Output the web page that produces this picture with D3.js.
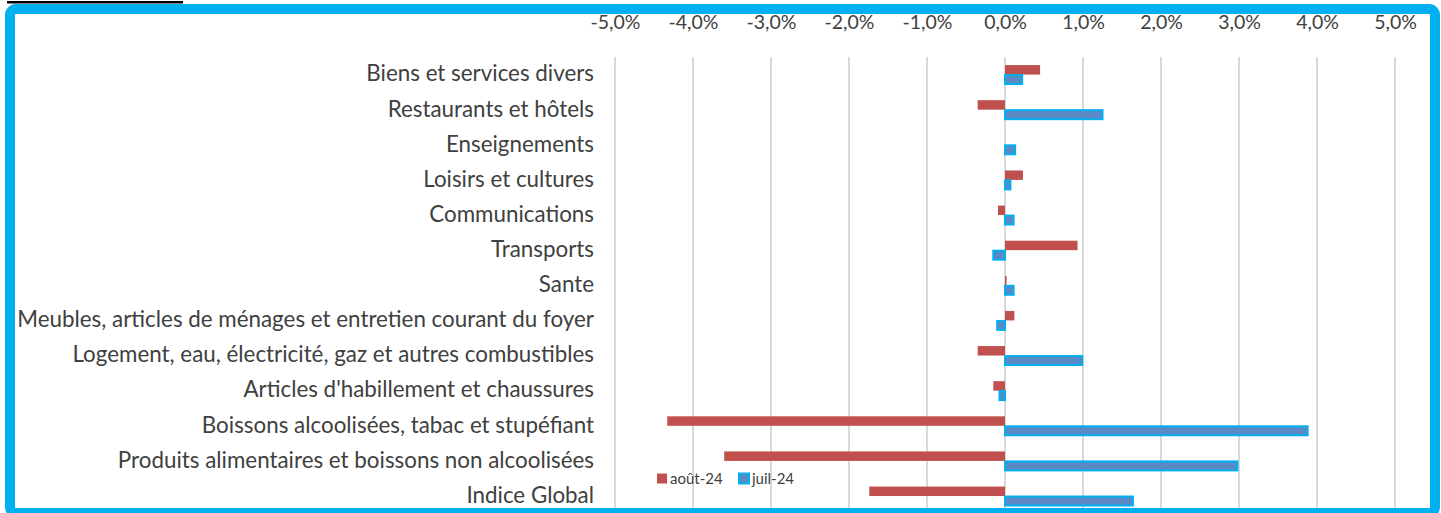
<!DOCTYPE html>
<html>
<head>
<meta charset="utf-8">
<script src="https://cdn.jsdelivr.net/npm/d3@7"></script>
<style>
  body { margin: 0; background: #fff; }
  svg { display: block; font-family: Lato, 'Open Sans', sans-serif; }
</style>
</head>
<body>
<script>
// categories top to bottom, values in %
let categories = [
    'Biens et services divers',
    'Restaurants et hôtels',
    'Enseignements',
    'Loisirs et cultures',
    'Communications',
    'Transports',
    'Sante',
    'Meubles, articles de ménages et entretien courant du foyer',
    'Logement, eau, électricité, gaz et autres combustibles',
    "Articles d'habillement et chaussures",
    'Boissons alcoolisées, tabac et stupéfiant',
    'Produits alimentaires et boissons non alcoolisées',
    'Indice Global'
];
let series = ['août-24', 'juil-24'];
let aout24 = [0.45, -0.35, 0.00, 0.23, -0.09, 0.93, 0.02, 0.12, -0.35, -0.15, -4.33, -3.60, -1.74];
let juil24 = [0.22, 1.25, 0.13, 0.07, 0.11, -0.15, 0.11, -0.10, 0.99, -0.07, 3.88, 2.98, 1.64];
let tickValues = [-5, -4, -3, -2, -1, 0, 1, 2, 3, 4, 5];

let width = 1441, height = 513;

let svg = d3.select('body').append('svg')
    .attr('width', width)
    .attr('height', height);

let fr = d3.formatLocale({decimal: ',', thousands: ' ', grouping: [3], currency: ['', '€'], minus: '-'});
let fmt = fr.format('.1f');

let x = d3.scaleLinear().domain([-5, 5]).range([615, 1395]);
let y = d3.scaleBand().domain(categories).range([57, 513.6])
    .paddingInner(0.46).paddingOuter(0.23);
let ySub = d3.scaleBand().domain(series).range([0, y.bandwidth()]);

// gridlines
svg.append('g').selectAll('line').data(tickValues).enter().append('line')
    .attr('x1', d => x(d)).attr('x2', d => x(d))
    .attr('y1', 57).attr('y2', height)
    .style('stroke', '#d9d9d9')
    .style('stroke-width', 2);

// top axis labels
let axis = d3.axisTop(x).tickValues(tickValues).tickSize(0).tickFormat(d => fmt(d) + '%');
let ax = svg.append('g').attr('transform', 'translate(0,32)').call(axis);
ax.select('.domain').remove();
ax.selectAll('text')
    .style('font-family', 'Lato, sans-serif')
    .style('font-size', '19.5px')
    .style('fill', '#404040');

// category labels
let labels = svg.append('g').selectAll('text').data(categories).enter().append('text')
    .attr('x', 594)
    .attr('y', d => y(d) + y.bandwidth() / 2 - 1)
    .attr('dy', '0.35em')
    .attr('text-anchor', 'end')
    .style('font-size', '20px')
    .style('fill', '#404040')
    .text(d => d);

// the longest label should run from x=17 to the right edge
let longest = d3.max(labels.nodes(), n => n.getComputedTextLength());
labels.style('font-size', (20 * 577 / longest) + 'px');

let rows = categories.map((c, i) => ({cat: c, aout: aout24[i], juil: juil24[i]}));

// août-24 bars
svg.append('g').selectAll('rect').data(rows).enter().append('rect')
    .attr('x', d => x(Math.min(0, d.aout)))
    .attr('y', d => y(d.cat) + ySub('août-24'))
    .attr('width', d => Math.abs(x(d.aout) - x(0)))
    .attr('height', ySub.bandwidth())
    .style('fill', '#c0504d');

// juil-24 bars
svg.append('g').selectAll('rect').data(rows).enter().append('rect')
    .attr('x', d => x(Math.min(0, d.juil)))
    .attr('y', d => y(d.cat) + ySub('juil-24') + 0.5)
    .attr('width', d => Math.abs(x(d.juil) - x(0)))
    .attr('height', ySub.bandwidth() - 0.5)
    .style('fill', '#5a8ac6')
    .style('stroke', '#00b0f0')
    .style('stroke-width', 2);

// legend
let legend = svg.append('g').attr('transform', 'translate(657,479)');
legend.append('rect').attr('x', 0).attr('y', -5.5).attr('width', 10).attr('height', 10)
    .style('fill', '#c0504d');
legend.append('text').attr('x', 13).attr('dy', '0.35em')
    .style('font-size', '15px').style('fill', '#404040').text('août-24');
legend.append('rect').attr('x', 82).attr('y', -5.5).attr('width', 10).attr('height', 10)
    .style('fill', '#5a8ac6').style('stroke', '#00b0f0').style('stroke-width', 2);
legend.append('text').attr('x', 95).attr('dy', '0.35em')
    .style('font-size', '15px').style('fill', '#404040').text('juil-24');

// frame
svg.append('rect')
    .attr('x', 10).attr('y', 9)
    .attr('width', 1425).attr('height', 504)
    .attr('rx', 6)
    .style('fill', 'none')
    .style('stroke', '#00b0f0')
    .style('stroke-width', 10);

// cut-off underline at top left
svg.append('rect').attr('x', 7).attr('y', 1).attr('width', 176).attr('height', 2.5)
    .style('fill', '#000');
</script>
</body>
</html>
